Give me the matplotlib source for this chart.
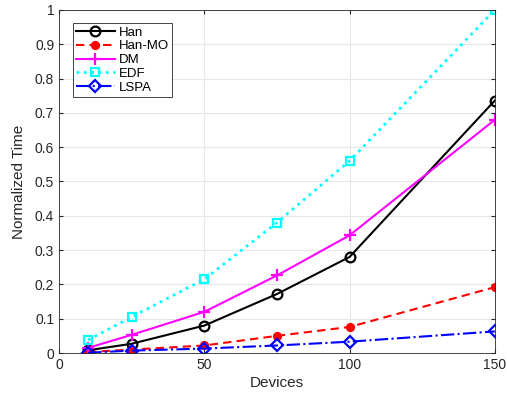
import numpy as np
import matplotlib
matplotlib.use("Agg")
import matplotlib.pyplot as plt

devices = [10, 25, 50, 75, 100, 150]
han = [0.008, 0.027, 0.080, 0.172, 0.280, 0.736]
han_mo = [0.003, 0.010, 0.022, 0.050, 0.076, 0.192]
dm = [0.015, 0.053, 0.120, 0.226, 0.343, 0.680]
edf = [0.038, 0.105, 0.215, 0.380, 0.560, 1.000]
lspa = [0.001, 0.007, 0.013, 0.022, 0.033, 0.063]

plt.rcParams['font.family'] = ['Liberation Sans', 'DejaVu Sans']
plt.rcParams['font.size'] = 9

fig = plt.figure(figsize=(5.07, 3.98), dpi=100)
ax = fig.add_axes([0.1164, 0.113, 0.8596, 0.862])

ax.plot(devices, han, color='k', ls='-', lw=1.5, marker='o', ms=7, mfc='none', mew=1.6, label='Han')
ax.plot(devices, han_mo, color='r', ls=(0, (4, 2.5)), lw=1.5, marker='o', ms=5, mfc='r', mew=1.6, label='Han-MO')
ax.plot(devices, dm, color='magenta', ls='-', lw=1.5, marker='+', ms=8, mew=1.6, label='DM')
ax.plot(devices, edf, color='cyan', ls=':', lw=2, marker='s', ms=6, mfc='none', mew=1.6, label='EDF')
ax.plot(devices, lspa, color='b', ls='-.', lw=1.5, marker='D', ms=6, mfc='none', mew=1.6, label='LSPA')

ax.set_xlim(0, 150)
ax.set_ylim(0, 1)
ax.set_xticks([0, 50, 100, 150])
ax.set_yticks(np.arange(0, 1.01, 0.1))
ax.set_yticklabels(['0', '0.1', '0.2', '0.3', '0.4', '0.5', '0.6', '0.7', '0.8', '0.9', '1'])
ax.grid(True, color='#e6e6e6', lw=0.8)
ax.set_axisbelow(True)
ax.tick_params(direction='in', length=3, colors='#262626', labelsize=10, top=True, right=True)
for s in ax.spines.values():
    s.set_color('#262626')
    s.set_linewidth(0.6)

ax.set_xlabel('Devices', fontsize=11, color='#262626', labelpad=3)
ax.set_ylabel('Normalized Time', fontsize=11, color='#262626', labelpad=6)

leg = ax.legend(loc='upper left', bbox_to_anchor=(0.032, 0.962), fancybox=False, edgecolor='#262626',
                framealpha=1, fontsize=9.5, handlelength=2.9, borderpad=0.25, labelspacing=0.12,
                handletextpad=0.3, borderaxespad=0.0)
leg.get_frame().set_linewidth(0.6)

fig.savefig('out.png', dpi=100)
